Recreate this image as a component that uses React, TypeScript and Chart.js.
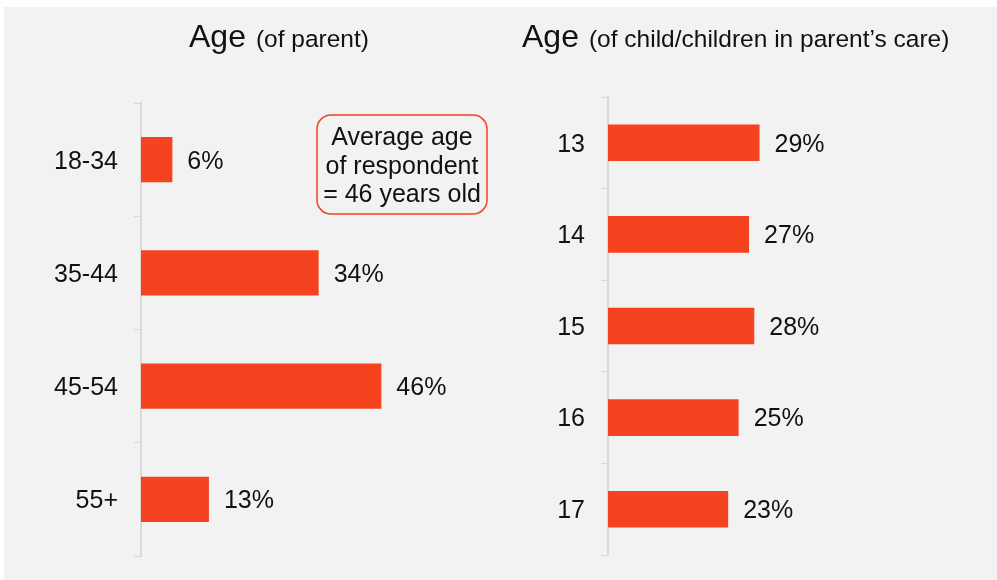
import { useEffect, useRef } from "react";
import { Chart, registerables } from "chart.js";

Chart.register(...registerables);

// ---- data ----
const parentAgeCategories = ["18-34", "35-44", "45-54", "55+"];
const parentAgeValues = [6, 34, 46, 13];
const childAgeCategories = ["13", "14", "15", "16", "17"];
const childAgeValues = [29, 27, 28, 25, 23];
const parentTitle = ["Age", "(of parent)"];
const childTitle = ["Age", "(of child/children in parent\u2019s care)"];
const annotationLines = ["Average age", "of respondent", "= 46 years old"];

const FONT = "'Liberation Sans', Arial, Helvetica, sans-serif";
const BAR = "#F5421F";
const TEXT = "#111111";
const AXIS = "#d9d9d9";
const PX_PER_PCT = 5.225;
const X_MAX = 65;
const BODY_SIZE = 25;

const valueLabelPlugin = {
  id: "valueLabels",
  afterDatasetsDraw(chart: any) {
    const ctx = chart.ctx;
    const meta = chart.getDatasetMeta(0);
    const data = chart.data.datasets[0].data;
    ctx.save();
    ctx.font = `${BODY_SIZE}px ${FONT}`;
    ctx.fillStyle = TEXT;
    ctx.textAlign = "left";
    ctx.textBaseline = "middle";
    meta.data.forEach((bar: any, i: number) => {
      ctx.fillText(`${data[i]}%`, bar.x + 15, bar.y + 2);
    });
    ctx.restore();
  },
};

const titlePlugin = {
  id: "richTitle",
  afterDraw(chart: any, _args: any, opts: any) {
    const ctx = chart.ctx;
    ctx.save();
    ctx.fillStyle = TEXT;
    ctx.textBaseline = "alphabetic";
    ctx.textAlign = "left";
    ctx.font = `32px ${FONT}`;
    ctx.fillText(opts.main, opts.x, opts.y);
    const w = ctx.measureText(opts.main).width;
    ctx.font = `24.5px ${FONT}`;
    ctx.fillText(opts.sub, opts.x + w + 10, opts.y);
    ctx.restore();
  },
};

const annotationPlugin = {
  id: "noteBox",
  afterDraw(chart: any, _args: any, opts: any) {
    if (!opts || !opts.lines) return;
    const ctx = chart.ctx;
    const { x, y, w, h, r } = opts;
    ctx.save();
    ctx.strokeStyle = BAR;
    ctx.lineWidth = 1.5;
    ctx.beginPath();
    ctx.moveTo(x + r, y);
    ctx.lineTo(x + w - r, y);
    ctx.arcTo(x + w, y, x + w, y + r, r);
    ctx.lineTo(x + w, y + h - r);
    ctx.arcTo(x + w, y + h, x + w - r, y + h, r);
    ctx.lineTo(x + r, y + h);
    ctx.arcTo(x, y + h, x, y + h - r, r);
    ctx.lineTo(x, y + r);
    ctx.arcTo(x, y, x + r, y, r);
    ctx.closePath();
    ctx.stroke();
    ctx.fillStyle = TEXT;
    ctx.font = `${BODY_SIZE}px ${FONT}`;
    ctx.textAlign = "center";
    ctx.textBaseline = "alphabetic";
    opts.lines.forEach((line: string, i: number) => {
      ctx.fillText(line, x + w / 2, opts.firstBaseline + i * opts.lineGap);
    });
    ctx.restore();
  },
};

function makeChart(
  canvas: HTMLCanvasElement,
  labels: string[],
  values: number[],
  cfg: {
    axisWidth: number;
    canvasWidth: number;
    top: number;
    bottom: number;
    title: string[];
    titleX: number;
    note?: any;
  }
) {
  const plotWidth = X_MAX * PX_PER_PCT;
  const padRight = cfg.canvasWidth - cfg.axisWidth - plotWidth;
  return new Chart(canvas, {
    type: "bar",
    data: {
      labels,
      datasets: [
        {
          data: values,
          backgroundColor: BAR,
          borderWidth: 0,
          categoryPercentage: 0.4,
          barPercentage: 1.0,
        },
      ],
    },
    options: {
      indexAxis: "y",
      animation: false,
      responsive: true,
      maintainAspectRatio: false,
      layout: { padding: { top: cfg.top, bottom: cfg.bottom, left: 0, right: padRight } },
      scales: {
        x: { display: false, min: 0, max: X_MAX },
        y: {
          type: "category",
          offset: true,
          afterFit: (scale: any) => {
            scale.width = cfg.axisWidth;
            scale.paddingTop = 0;
            scale.paddingBottom = 0;
          },
          grid: {
            offset: true,
            drawOnChartArea: false,
            drawTicks: true,
            tickLength: 7,
            color: AXIS,
            lineWidth: 1,
          },
          border: { display: true, color: AXIS, width: 2 },
          ticks: { padding: 16, labelOffset: 2, color: TEXT, font: { family: FONT, size: BODY_SIZE } },
        },
      },
      plugins: {
        legend: { display: false },
        tooltip: { enabled: false },
        richTitle: { main: cfg.title[0], sub: cfg.title[1], x: cfg.titleX, y: 47 },
        noteBox: cfg.note || {},
      } as any,
    },
    plugins: [valueLabelPlugin, titlePlugin, annotationPlugin],
  } as any);
}

export default function App() {
  const leftRef = useRef<HTMLCanvasElement>(null);
  const rightRef = useRef<HTMLCanvasElement>(null);

  useEffect(() => {
    document.body.style.margin = "0";
    const left = makeChart(leftRef.current!, parentAgeCategories, parentAgeValues, {
      axisWidth: 141,
      canvasWidth: 500,
      top: 103,
      bottom: 24,
      title: parentTitle,
      titleX: 189,
      note: {
        lines: annotationLines,
        x: 317,
        y: 115,
        w: 170,
        h: 99,
        r: 14,
        firstBaseline: 145,
        lineGap: 28.5,
      },
    });
    const right = makeChart(rightRef.current!, childAgeCategories, childAgeValues, {
      axisWidth: 108,
      canvasWidth: 497,
      top: 97,
      bottom: 25,
      title: childTitle,
      titleX: 22,
    });
    return () => {
      left.destroy();
      right.destroy();
    };
  }, []);

  return (
    <div style={{ position: "relative", width: 997, height: 580, background: "#ffffff", overflow: "hidden" }}>
      <div style={{ position: "absolute", left: 4, top: 7, right: 0, bottom: 0, background: "#f2f2f2" }} />
      <div style={{ position: "absolute", left: 0, top: 0, width: 500, height: 580 }}>
        <canvas ref={leftRef} />
      </div>
      <div style={{ position: "absolute", left: 500, top: 0, width: 497, height: 580 }}>
        <canvas ref={rightRef} />
      </div>
    </div>
  );
}
